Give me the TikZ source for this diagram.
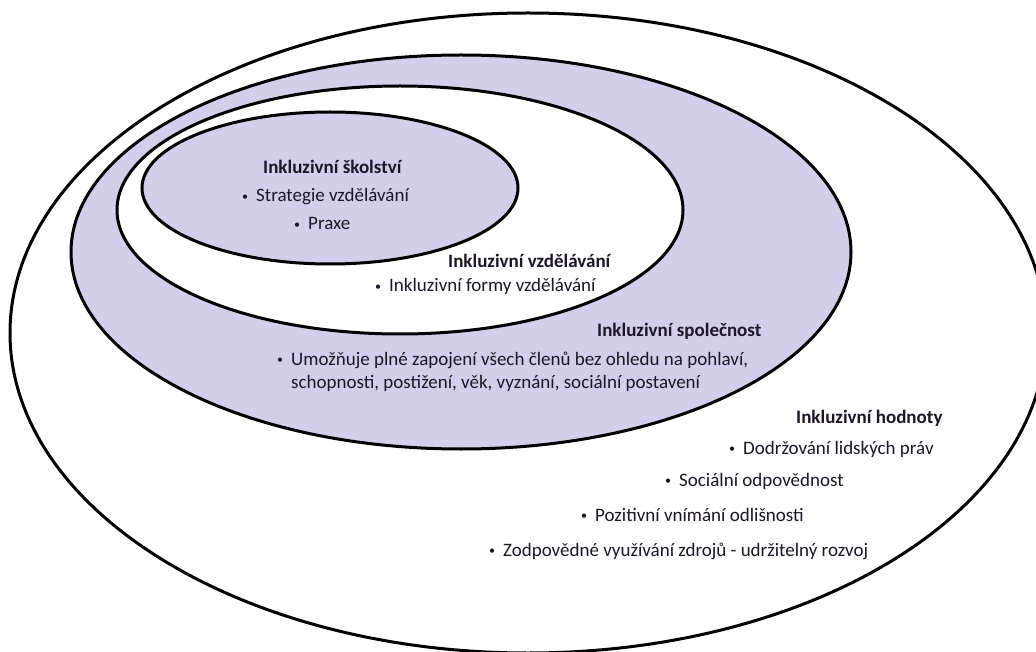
\documentclass[tikz,border=0pt]{standalone}
\usepackage{fontspec}
\setmainfont{Carlito}
\definecolor{lav}{RGB}{211,206,236}
\definecolor{ink}{RGB}{28,22,38}
\newcommand\bl{\makebox[14pt][l]{\raisebox{1.5pt}{\fontsize{12}{12}\selectfont •}}}
\tikzset{
  ring/.style={draw=black, line width=3pt},
  title/.style={anchor=base west, inner sep=0pt, text=ink, font=\fontsize{19}{24}\selectfont\bfseries},
  item/.style={anchor=base west, inner sep=0pt, text=ink, font=\fontsize{19}{23}\selectfont, align=left},
}
\begin{document}
\begin{tikzpicture}[x=1pt,y=-1pt]
\useasboundingbox (0,0) rectangle (1036,652);
\clip (0,0) rectangle (1036,652);
\fill[white] (0,0) rectangle (1036,652);
% ellipses
\draw[ring, fill=white] (528,333) ellipse [x radius=518, y radius=320];
\draw[ring, fill=lav] (461,252) ellipse [x radius=390, y radius=197];
\draw[ring, fill=white] (400,210) ellipse [x radius=283, y radius=124];
\draw[ring, fill=lav] (330,188) ellipse [x radius=188, y radius=76];
% Inkluzivní školství
\node[title] (t1) at (263,174) {Inkluzivní školství};
\node[item] (i11) at (242,202) {\bl Strategie vzdělávání};
\node[item] (i12) at (294,230) {\bl Praxe};
% Inkluzivní vzdělávání
\node[title] (t2) at (448,268) {Inkluzivní vzdělávání};
\node[item] (i21) at (375,292) {\bl Inkluzivní formy vzdělávání};
% Inkluzivní společnost
\node[title] (t3) at (597,336) {Inkluzivní společnost};
\node[item] (i31) at (277,388) {\bl Umožňuje plné zapojení všech členů bez ohledu na pohlaví,\\\hspace*{14pt}schopnosti, postižení, věk, vyznání, sociální postavení};
% Inkluzivní hodnoty
\node[title] (t4) at (796,423) {Inkluzivní hodnoty};
\node[item] (i41) at (729,454) {\bl Dodržování lidských práv};
\node[item] (i42) at (665,486) {\bl Sociální odpovědnost};
\node[item] (i43) at (581,521) {\bl Pozitivní vnímání odlišnosti};
\node[item] (i44) at (489,556) {\bl Zodpovědné využívání zdrojů - udržitelný rozvoj};
\end{tikzpicture}
\end{document}
